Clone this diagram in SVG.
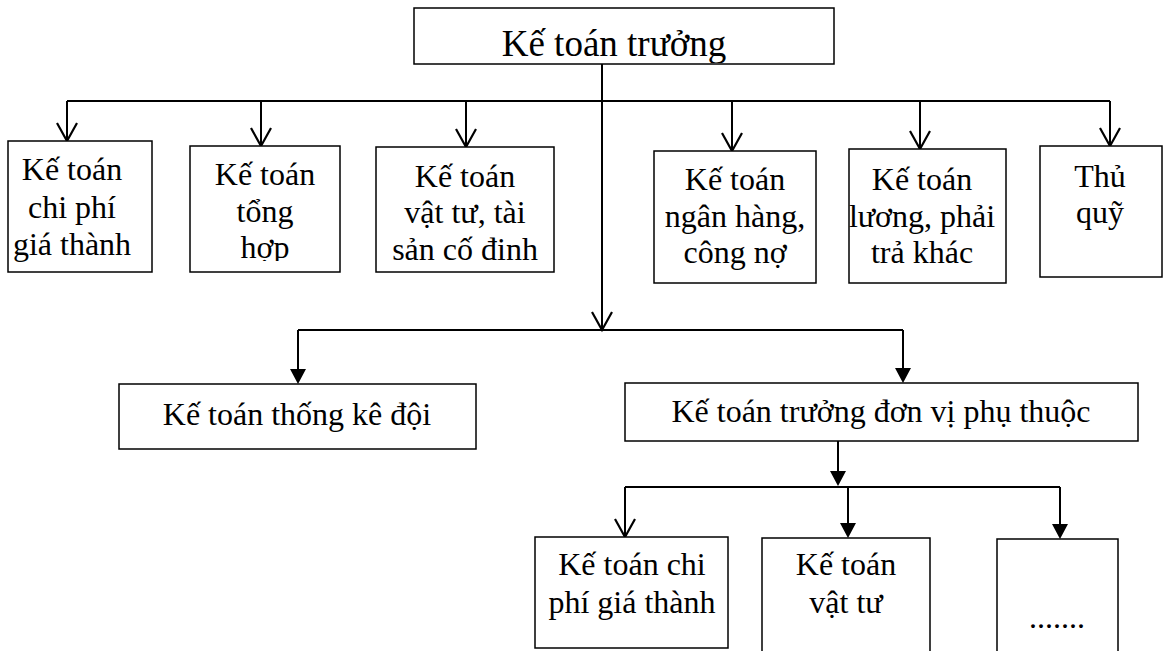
<svg xmlns="http://www.w3.org/2000/svg" xmlns:xlink="http://www.w3.org/1999/xlink" width="1166" height="651" viewBox="0 0 1166 651">
<style>
.box{fill:#fff;stroke:#000;stroke-width:1.5}
.t{font-family:"Liberation Serif","Times New Roman",serif;font-size:32px;fill:#000;text-anchor:middle}
.title{font-size:37px}
.c{fill:none;stroke:#000;stroke-width:2}
</style>
<defs>
<path id="openArrow" d="M-10,-18 L0,0 L10,-18" fill="none" stroke="#000" stroke-width="2.2"/>
<path id="fillArrow" d="M-8,-15 L0,0 L8,-15 Z" fill="#000"/>
<clipPath id="clipTitle"><rect x="414" y="8" width="420" height="55"/></clipPath>
<clipPath id="clipB2"><rect x="190" y="146" width="150" height="115"/></clipPath>
</defs>
<rect width="1166" height="651" fill="#fff"/>
<g id="connectors">
<path class="c" d="M602,64 V328"/>
<path class="c" d="M67,101 H1110"/>
<path class="c" d="M67,101 V140 M261,101 V145 M466,101 V146 M732,101 V150 M920,101 V148 M1110,101 V145"/>
<use href="#openArrow" x="67" y="141"/>
<use href="#openArrow" x="261" y="146"/>
<use href="#openArrow" x="466" y="147"/>
<use href="#openArrow" x="732" y="151"/>
<use href="#openArrow" x="920" y="149"/>
<use href="#openArrow" x="1110" y="146"/>
<use href="#openArrow" x="602" y="330"/>
<path class="c" d="M298,330 H903"/>
<path class="c" d="M298,330 V372 M903,330 V371"/>
<use href="#fillArrow" x="298" y="384"/>
<use href="#fillArrow" x="903" y="383"/>
<path class="c" d="M838,441 V474"/>
<use href="#fillArrow" x="838" y="486"/>
<path class="c" d="M625,487 H1060"/>
<path class="c" d="M625,487 V536 M848,487 V526 M1060,487 V527"/>
<use href="#openArrow" x="625" y="537"/>
<use href="#fillArrow" x="848" y="538"/>
<use href="#fillArrow" x="1060" y="539"/>
</g>
<g id="n-ketoantruong">
<rect class="box" x="414" y="8" width="420" height="56"/>
<text class="t title" x="614" y="56" clip-path="url(#clipTitle)">Kế toán trưởng</text>
</g>
<g id="n-chiphi">
<rect class="box" x="8" y="141" width="144" height="131"/>
<text class="t" x="72" y="180">Kế toán</text>
<text class="t" x="72" y="218">chi phí</text>
<text class="t" x="72" y="255">giá thành</text>
</g>
<g id="n-tonghop">
<rect class="box" x="190" y="146" width="150" height="126"/>
<g clip-path="url(#clipB2)">
<text class="t" x="265" y="185">Kế toán</text>
<text class="t" x="265" y="222">tổng</text>
<text class="t" x="265" y="258">hợp</text>
</g>
</g>
<g id="n-vattu">
<rect class="box" x="376" y="147" width="178" height="125"/>
<text class="t" x="465" y="187">Kế toán</text>
<text class="t" x="465" y="223">vật tư, tài</text>
<text class="t" x="465" y="260">sản cố đinh</text>
</g>
<g id="n-nganhang">
<rect class="box" x="654" y="151" width="162" height="132"/>
<text class="t" x="735" y="190">Kế toán</text>
<text class="t" x="735" y="227">ngân hàng,</text>
<text class="t" x="735" y="263">công nợ</text>
</g>
<g id="n-luong">
<rect class="box" x="849" y="149" width="157" height="134"/>
<text class="t" x="922" y="190">Kế toán</text>
<text class="t" x="922" y="227">lương, phải</text>
<text class="t" x="922" y="263">trả khác</text>
</g>
<g id="n-thuquy">
<rect class="box" x="1040" y="146" width="122" height="131"/>
<text class="t" x="1100" y="187">Thủ</text>
<text class="t" x="1100" y="223">quỹ</text>
</g>
<g id="n-thongke">
<rect class="box" x="119" y="384" width="357" height="65"/>
<text class="t" x="297" y="425">Kế toán thống kê đội</text>
</g>
<g id="n-donvi">
<rect class="box" x="625" y="383" width="513" height="58"/>
<text class="t" x="881" y="422">Kế toán trưởng đơn vị phụ thuộc</text>
</g>
<g id="n-chiphi2">
<rect class="box" x="535" y="537" width="193" height="111"/>
<text class="t" x="632" y="575">Kế toán chi</text>
<text class="t" x="632" y="613">phí giá thành</text>
</g>
<g id="n-vattu2">
<path class="box" d="M762,655 V538 H930 V655"/>
<text class="t" x="846" y="575">Kế toán</text>
<text class="t" x="846" y="613">vật tư</text>
</g>
<g id="n-other">
<path class="box" d="M997,655 V539 H1118 V655"/>
<text class="t" x="1057" y="628">.......</text>
</g>
</svg>
